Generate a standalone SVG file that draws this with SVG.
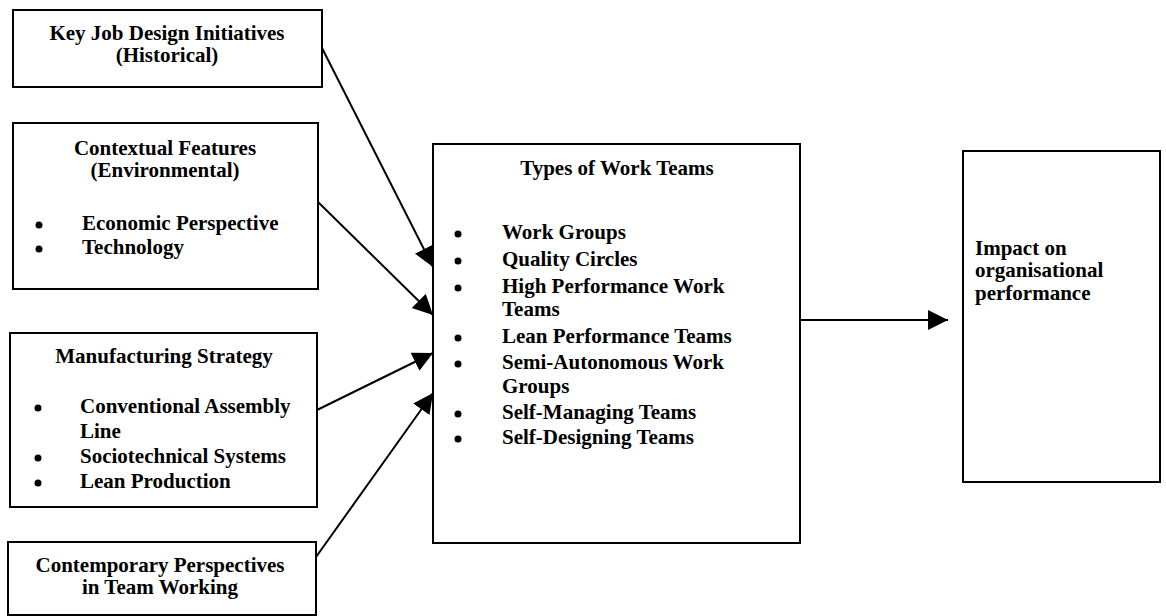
<svg xmlns="http://www.w3.org/2000/svg" width="1166" height="616" viewBox="0 0 1166 616">
  <style>
    .box { fill: #fff; stroke: #000; stroke-width: 2; }
    .t { font-family: "Liberation Serif", "Times New Roman", serif; font-weight: bold; font-size: 21px; fill: #000; }
    .c { text-anchor: middle; }
    .dot { fill: #000; }
    .link { stroke: #000; stroke-width: 2; fill: none; marker-end: url(#head); }
  </style>
  <defs>
    <marker id="head" markerUnits="userSpaceOnUse" markerWidth="22" markerHeight="22" refX="20" refY="10" orient="auto">
      <path d="M0,0 L20,10 L0,20 z" fill="#000"/>
    </marker>
  </defs>
  <rect width="1166" height="616" fill="#fff"/>

  <g id="connectors">
    <line class="link" x1="322" y1="48" x2="433" y2="267"/>
    <line class="link" x1="318" y1="202" x2="433" y2="315"/>
    <line class="link" x1="317" y1="410" x2="433" y2="353"/>
    <line class="link" x1="316" y1="557" x2="433" y2="393"/>
    <line class="link" x1="801" y1="320" x2="948" y2="320"/>
  </g>

  <g id="key-job-design">
    <rect class="box" x="13" y="10" width="309" height="77"/>
    <text class="t c" x="167" y="40">Key Job Design Initiatives</text>
    <text class="t c" x="167" y="62">(Historical)</text>
  </g>

  <g id="contextual-features">
    <rect class="box" x="13" y="123" width="305" height="166"/>
    <text class="t c" x="165" y="155">Contextual Features</text>
    <text class="t c" x="165" y="177">(Environmental)</text>
    <circle class="dot" cx="39" cy="225" r="3.5"/>
    <text class="t" x="82" y="230">Economic Perspective</text>
    <circle class="dot" cx="39" cy="249" r="3.5"/>
    <text class="t" x="82" y="254">Technology</text>
  </g>

  <g id="manufacturing-strategy">
    <rect class="box" x="10" y="333" width="307" height="174"/>
    <text class="t c" x="164" y="363">Manufacturing Strategy</text>
    <circle class="dot" cx="38" cy="408" r="3.5"/>
    <text class="t" x="80" y="413">Conventional Assembly</text>
    <text class="t" x="80" y="438">Line</text>
    <circle class="dot" cx="38" cy="458" r="3.5"/>
    <text class="t" x="80" y="463">Sociotechnical Systems</text>
    <circle class="dot" cx="38" cy="483" r="3.5"/>
    <text class="t" x="80" y="488">Lean Production</text>
  </g>

  <g id="contemporary-perspectives">
    <rect class="box" x="8" y="542" width="308" height="73"/>
    <text class="t c" x="160" y="572">Contemporary Perspectives</text>
    <text class="t c" x="160" y="594">in Team Working</text>
  </g>

  <g id="types-of-work-teams">
    <rect class="box" x="433" y="144" width="367" height="399"/>
    <text class="t c" x="617" y="175">Types of Work Teams</text>
    <circle class="dot" cx="458" cy="234" r="3.5"/>
    <text class="t" x="502" y="239">Work Groups</text>
    <circle class="dot" cx="458" cy="261" r="3.5"/>
    <text class="t" x="502" y="266">Quality Circles</text>
    <circle class="dot" cx="458" cy="288" r="3.5"/>
    <text class="t" x="502" y="293">High Performance Work</text>
    <text class="t" x="502" y="316">Teams</text>
    <circle class="dot" cx="458" cy="338" r="3.5"/>
    <text class="t" x="502" y="343">Lean Performance Teams</text>
    <circle class="dot" cx="458" cy="364" r="3.5"/>
    <text class="t" x="502" y="369">Semi-Autonomous Work</text>
    <text class="t" x="502" y="393">Groups</text>
    <circle class="dot" cx="458" cy="414" r="3.5"/>
    <text class="t" x="502" y="419">Self-Managing Teams</text>
    <circle class="dot" cx="458" cy="439" r="3.5"/>
    <text class="t" x="502" y="444">Self-Designing Teams</text>
  </g>

  <g id="impact">
    <rect class="box" x="963" y="151" width="197" height="331"/>
    <text class="t" x="975" y="255">Impact on</text>
    <text class="t" x="975" y="277">organisational</text>
    <text class="t" x="975" y="300">performance</text>
  </g>
</svg>
